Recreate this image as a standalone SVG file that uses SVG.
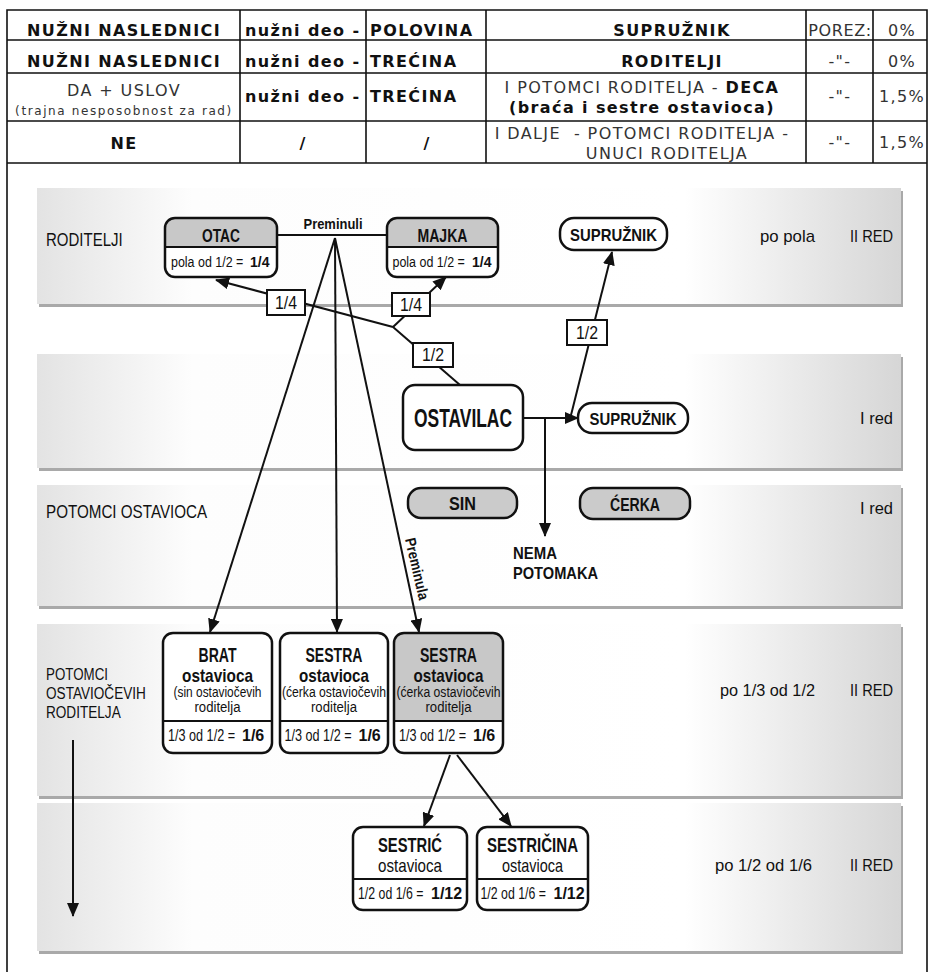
<svg xmlns="http://www.w3.org/2000/svg" width="932" height="972" viewBox="0 0 932 972">
<defs>
<style>
.t{font-family:"DejaVu Sans",Verdana,sans-serif;font-size:16px;letter-spacing:1.4px;fill:#333}
.tb{font-weight:bold;fill:#111}
.ts{font-size:12px;letter-spacing:1.6px}
.tl{stroke:#111;stroke-width:1.6;fill:none}
.d{font-family:"Liberation Sans Narrow","Arial Narrow","Liberation Sans",sans-serif;fill:#111}
.b{font-weight:bold}
.band{fill:url(#bg)}
.shadow{fill:#a9a9a9}
.box{fill:#fff;stroke:#111;stroke-width:2.5}
.out{fill:none;stroke:#111;stroke-width:2.5}
.hdr{fill:#c8c8c8}
.div{stroke:#111;stroke-width:1.8}
.lab{fill:#fff;stroke:#111;stroke-width:2}
.c{stroke:#111;stroke-width:2;fill:none}
.a{marker-end:url(#ah)}
</style>
<linearGradient id="bg" x1="0" y1="0" x2="1" y2="0">
<stop offset="0" stop-color="#e3e3e3"/>
<stop offset="0.18" stop-color="#fdfdfd"/>
<stop offset="0.75" stop-color="#ffffff"/>
<stop offset="1" stop-color="#d6d6d6"/>
</linearGradient>
<marker id="ah" markerUnits="userSpaceOnUse" markerWidth="14" markerHeight="12" refX="13" refY="6" orient="auto">
<path d="M0,0 L14,6 L0,12 z" fill="#111"/>
</marker>
</defs>
<rect width="932" height="972" fill="#fff"/>

<g id="table">
<path class="tl" d="M7,972 V10 H927 V972"/>
<path class="tl" d="M7,40 H927 M7,73 H927 M7,121 H927 M7,163 H927 M240,10 V163 M366,10 V163 M486,10 V163 M806,10 V163 M873,10 V163"/>
<text class="t tb" x="124" y="36" text-anchor="middle">NUŽNI NASLEDNICI</text>
<text class="t tb" x="245" y="36">nužni deo -</text>
<text class="t tb" x="370" y="36">POLOVINA</text>
<text class="t tb" x="672" y="36" text-anchor="middle">SUPRUŽNIK</text>
<text class="t" x="840" y="36" text-anchor="middle" style="letter-spacing:0.6px">POREZ:</text>
<text class="t" x="902" y="36" text-anchor="middle">0%</text>
<text class="t tb" x="124" y="67" text-anchor="middle">NUŽNI NASLEDNICI</text>
<text class="t tb" x="245" y="67">nužni deo -</text>
<text class="t tb" x="370" y="67">TREĆINA</text>
<text class="t tb" x="672" y="67" text-anchor="middle">RODITELJI</text>
<text class="t" x="840" y="67" text-anchor="middle">-"-</text>
<text class="t" x="902" y="67" text-anchor="middle">0%</text>
<text class="t" x="124" y="96" text-anchor="middle">DA + USLOV</text>
<text class="t ts" x="124" y="115" text-anchor="middle">(trajna nesposobnost za rad)</text>
<text class="t tb" x="245" y="102">nužni deo -</text>
<text class="t tb" x="370" y="102">TREĆINA</text>
<text class="t" x="642" y="93" text-anchor="middle">I POTOMCI RODITELJA - <tspan class="tb">DECA</tspan></text>
<text class="t tb" x="642" y="113" text-anchor="middle">(braća i sestre ostavioca)</text>
<text class="t" x="840" y="102" text-anchor="middle">-"-</text>
<text class="t" x="902" y="102" text-anchor="middle">1,5%</text>
<text class="t tb" x="124" y="149" text-anchor="middle">NE</text>
<text class="t tb" x="303" y="149" text-anchor="middle">/</text>
<text class="t tb" x="427" y="149" text-anchor="middle">/</text>
<text class="t" x="642" y="139" text-anchor="middle" xml:space="preserve">I DALJE  - POTOMCI RODITELJA -</text>
<text class="t" x="667" y="159" text-anchor="middle">UNUCI RODITELJA</text>
<text class="t" x="840" y="148" text-anchor="middle">-"-</text>
<text class="t" x="902" y="148" text-anchor="middle">1,5%</text>
</g>

<g id="bands">
<rect class="shadow" x="39" y="191" width="864" height="116"/>
<rect class="band" x="37" y="188" width="864" height="116"/>
<rect class="shadow" x="39" y="357" width="864" height="114"/>
<rect class="band" x="37" y="354" width="864" height="114"/>
<rect class="shadow" x="39" y="488" width="864" height="121"/>
<rect class="band" x="37" y="485" width="864" height="121"/>
<rect class="shadow" x="39" y="627" width="864" height="172"/>
<rect class="band" x="37" y="624" width="864" height="172"/>
<rect class="shadow" x="39" y="806" width="864" height="148"/>
<rect class="band" x="37" y="803" width="864" height="148"/>
<text class="d" font-size="19" transform="translate(46,246) scale(0.79,1)">RODITELJI</text>
<text class="d" font-size="19" transform="translate(46,518) scale(0.8,1)">POTOMCI OSTAVIOCA</text>
<text class="d" font-size="17" transform="translate(46,680) scale(0.785,1)">POTOMCI</text>
<text class="d" font-size="17" transform="translate(46,699) scale(0.8,1)">OSTAVIOČEVIH</text>
<text class="d" font-size="17" transform="translate(46,718) scale(0.8,1)">RODITELJA</text>
<text class="d" x="760" y="242" font-size="17" textLength="55" lengthAdjust="spacingAndGlyphs">po pola</text>
<text class="d" x="850" y="242" font-size="17" textLength="43" lengthAdjust="spacingAndGlyphs">II RED</text>
<text class="d" x="860" y="424" font-size="17" textLength="33" lengthAdjust="spacingAndGlyphs">I red</text>
<text class="d" x="860" y="514" font-size="17" textLength="33" lengthAdjust="spacingAndGlyphs">I red</text>
<text class="d" x="720" y="696" font-size="17" textLength="95" lengthAdjust="spacingAndGlyphs">po 1/3 od 1/2</text>
<text class="d" x="850" y="696" font-size="17" textLength="43" lengthAdjust="spacingAndGlyphs">II RED</text>
<text class="d" x="715" y="871" font-size="17" textLength="97" lengthAdjust="spacingAndGlyphs">po 1/2 od 1/6</text>
<text class="d" x="850" y="871" font-size="17" textLength="43" lengthAdjust="spacingAndGlyphs">II RED</text>
</g>

<g id="connectors">
<path class="c" d="M277,235 H387"/>
<path class="c a" d="M335,238 L210,632"/>
<path class="c a" d="M335,238 L337,632"/>
<path class="c a" d="M335,238 L419,632"/>
<path class="c a" d="M73,740 V916"/>
<path class="c" d="M460,385 L393,327"/>
<path class="c a" d="M393,327 L216,280"/>
<path class="c a" d="M393,327 L446,277"/>
<path class="c a" d="M523,418 H578"/>
<path class="c a" d="M571,415 L612,252"/>
<path class="c a" d="M545,418 V536"/>
<path class="c a" d="M450,755 L424,826"/>
<path class="c a" d="M457,755 L511,826"/>
<text class="d b" x="333" y="229" font-size="15" text-anchor="middle" textLength="59" lengthAdjust="spacingAndGlyphs">Preminuli</text>
<text class="d b" font-size="15" text-anchor="middle" textLength="63" lengthAdjust="spacingAndGlyphs" transform="translate(412,570) rotate(77)">Preminula</text>
</g>

<g id="lab-1-4-left">
<rect class="lab" x="267" y="290" width="38" height="25"/>
<text class="d" x="286" y="309" font-size="18" text-anchor="middle" textLength="22" lengthAdjust="spacingAndGlyphs">1/4</text>
</g>
<g id="lab-1-4-right">
<rect class="lab" x="392" y="293" width="38" height="23"/>
<text class="d" x="411" y="311" font-size="18" text-anchor="middle" textLength="22" lengthAdjust="spacingAndGlyphs">1/4</text>
</g>
<g id="lab-1-2-mid">
<rect class="lab" x="413" y="343" width="40" height="24"/>
<text class="d" x="433" y="361" font-size="18" text-anchor="middle" textLength="22" lengthAdjust="spacingAndGlyphs">1/2</text>
</g>
<g id="lab-1-2-right">
<rect class="lab" x="567" y="320" width="40" height="25"/>
<text class="d" x="587" y="339" font-size="18" text-anchor="middle" textLength="22" lengthAdjust="spacingAndGlyphs">1/2</text>
</g>

<g id="otac">
<rect x="165" y="218" width="112" height="59" rx="10" fill="#fff"/>
<path class="hdr" d="M165,247 V228 Q165,218 175,218 H267 Q277,218 277,228 V247 Z"/>
<line class="div" x1="165" y1="247" x2="277" y2="247"/>
<rect class="out" x="165" y="218" width="112" height="59" rx="10"/>
<text class="d b" x="221" y="242" font-size="18" text-anchor="middle" textLength="38" lengthAdjust="spacingAndGlyphs">OTAC</text>
<text class="d" font-size="14" transform="translate(171,267) scale(0.89,1)">pola od 1/2 =</text>
<text class="d b" x="250" y="267" font-size="14">1/4</text>
</g>
<g id="majka">
<rect x="387" y="218" width="111" height="59" rx="10" fill="#fff"/>
<path class="hdr" d="M387,247 V228 Q387,218 397,218 H488 Q498,218 498,228 V247 Z"/>
<line class="div" x1="387" y1="247" x2="498" y2="247"/>
<rect class="out" x="387" y="218" width="111" height="59" rx="10"/>
<text class="d b" x="442.5" y="242" font-size="18" text-anchor="middle" textLength="50" lengthAdjust="spacingAndGlyphs">MAJKA</text>
<text class="d" font-size="14" transform="translate(392.5,267) scale(0.89,1)">pola od 1/2 =</text>
<text class="d b" x="472" y="267" font-size="14">1/4</text>
</g>
<g id="suprug-2">
<rect class="box" x="560" y="218" width="107" height="32" rx="14"/>
<text class="d b" x="613.5" y="241" font-size="17" text-anchor="middle" textLength="87" lengthAdjust="spacingAndGlyphs">SUPRUŽNIK</text>
</g>
<g id="ostavilac">
<rect class="box" x="403" y="385" width="120" height="65" rx="12"/>
<text class="d b" x="463" y="427" font-size="25" text-anchor="middle" textLength="98" lengthAdjust="spacingAndGlyphs">OSTAVILAC</text>
</g>
<g id="suprug-1">
<rect class="box" x="578" y="403" width="110" height="30" rx="14"/>
<text class="d b" x="633" y="425" font-size="17" text-anchor="middle" textLength="87" lengthAdjust="spacingAndGlyphs">SUPRUŽNIK</text>
</g>
<g id="sin">
<rect class="box" x="408" y="488" width="109" height="30" rx="13" style="fill:#cbcbcb"/>
<text class="d b" x="462.5" y="510" font-size="18" text-anchor="middle" textLength="27" lengthAdjust="spacingAndGlyphs">SIN</text>
</g>
<g id="cerka">
<rect class="box" x="580" y="488" width="110" height="31" rx="13" style="fill:#cbcbcb"/>
<text class="d b" x="635" y="511" font-size="18" text-anchor="middle" textLength="50" lengthAdjust="spacingAndGlyphs">ĆERKA</text>
</g>
<g id="nema-potomaka">
<text class="d b" x="513" y="559" font-size="17" textLength="44" lengthAdjust="spacingAndGlyphs">NEMA</text>
<text class="d b" x="513" y="579" font-size="17" textLength="85" lengthAdjust="spacingAndGlyphs">POTOMAKA</text>
</g>

<g id="brat">
<rect class="box" x="163" y="633" width="109" height="120" rx="10"/>
<line class="div" x1="163" y1="721" x2="272" y2="721"/>
<text class="d b" x="217.5" y="662" font-size="20" text-anchor="middle" textLength="38" lengthAdjust="spacingAndGlyphs">BRAT</text>
<text class="d b" x="217.5" y="682" font-size="19" text-anchor="middle" textLength="71" lengthAdjust="spacingAndGlyphs">ostavioca</text>
<text class="d" font-size="14" text-anchor="middle" transform="translate(217.5,697) scale(0.85,1)">(sin ostaviočevih</text>
<text class="d" x="217.5" y="712" font-size="14" text-anchor="middle" textLength="46" lengthAdjust="spacingAndGlyphs">roditelja</text>
<text class="d" font-size="16" transform="translate(168,741) scale(0.79,1)">1/3 od 1/2 =</text>
<text class="d b" x="242" y="741" font-size="16">1/6</text>
</g>
<g id="sestra-1">
<rect class="box" x="280" y="633" width="108" height="120" rx="10"/>
<line class="div" x1="280" y1="721" x2="388" y2="721"/>
<text class="d b" x="334" y="662" font-size="20" text-anchor="middle" textLength="57" lengthAdjust="spacingAndGlyphs">SESTRA</text>
<text class="d b" x="334" y="682" font-size="19" text-anchor="middle" textLength="70" lengthAdjust="spacingAndGlyphs">ostavioca</text>
<text class="d" font-size="14" text-anchor="middle" transform="translate(334,697) scale(0.87,1)">(ćerka ostaviočevih</text>
<text class="d" x="334" y="712" font-size="14" text-anchor="middle" textLength="46" lengthAdjust="spacingAndGlyphs">roditelja</text>
<text class="d" font-size="16" transform="translate(284.5,741) scale(0.79,1)">1/3 od 1/2 =</text>
<text class="d b" x="358.5" y="741" font-size="16">1/6</text>
</g>
<g id="sestra-2">
<rect x="394" y="633" width="109" height="120" rx="10" fill="#fff"/>
<path class="hdr" d="M394,721 V643 Q394,633 404,633 H493 Q503,633 503,643 V721 Z"/>
<line class="div" x1="394" y1="721" x2="503" y2="721"/>
<rect class="out" x="394" y="633" width="109" height="120" rx="10"/>
<text class="d b" x="448.5" y="662" font-size="20" text-anchor="middle" textLength="57" lengthAdjust="spacingAndGlyphs">SESTRA</text>
<text class="d b" x="448.5" y="682" font-size="19" text-anchor="middle" textLength="70" lengthAdjust="spacingAndGlyphs">ostavioca</text>
<text class="d" font-size="14" text-anchor="middle" transform="translate(448.5,697) scale(0.87,1)">(ćerka ostaviočevih</text>
<text class="d" x="448.5" y="712" font-size="14" text-anchor="middle" textLength="46" lengthAdjust="spacingAndGlyphs">roditelja</text>
<text class="d" font-size="16" transform="translate(399,741) scale(0.79,1)">1/3 od 1/2 =</text>
<text class="d b" x="473" y="741" font-size="16">1/6</text>
</g>
<g id="sestric">
<rect class="box" x="353" y="827" width="114" height="83" rx="10"/>
<line class="div" x1="353" y1="879" x2="467" y2="879"/>
<text class="d b" x="410" y="852" font-size="20" text-anchor="middle" textLength="64" lengthAdjust="spacingAndGlyphs">SESTRIĆ</text>
<text class="d" x="410" y="872" font-size="19" text-anchor="middle" textLength="64" lengthAdjust="spacingAndGlyphs">ostavioca</text>
<text class="d" font-size="16" transform="translate(358,899) scale(0.77,1)">1/2 od 1/6 =</text>
<text class="d b" x="431" y="899" font-size="16">1/12</text>
</g>
<g id="sestricina">
<rect class="box" x="477" y="827" width="111" height="83" rx="10"/>
<line class="div" x1="477" y1="879" x2="588" y2="879"/>
<text class="d b" x="532.5" y="852" font-size="20" text-anchor="middle" textLength="91" lengthAdjust="spacingAndGlyphs">SESTRIČINA</text>
<text class="d" x="532.5" y="872" font-size="19" text-anchor="middle" textLength="61" lengthAdjust="spacingAndGlyphs">ostavioca</text>
<text class="d" font-size="16" transform="translate(480.5,899) scale(0.77,1)">1/2 od 1/6 =</text>
<text class="d b" x="553.5" y="899" font-size="16">1/12</text>
</g>
</svg>
